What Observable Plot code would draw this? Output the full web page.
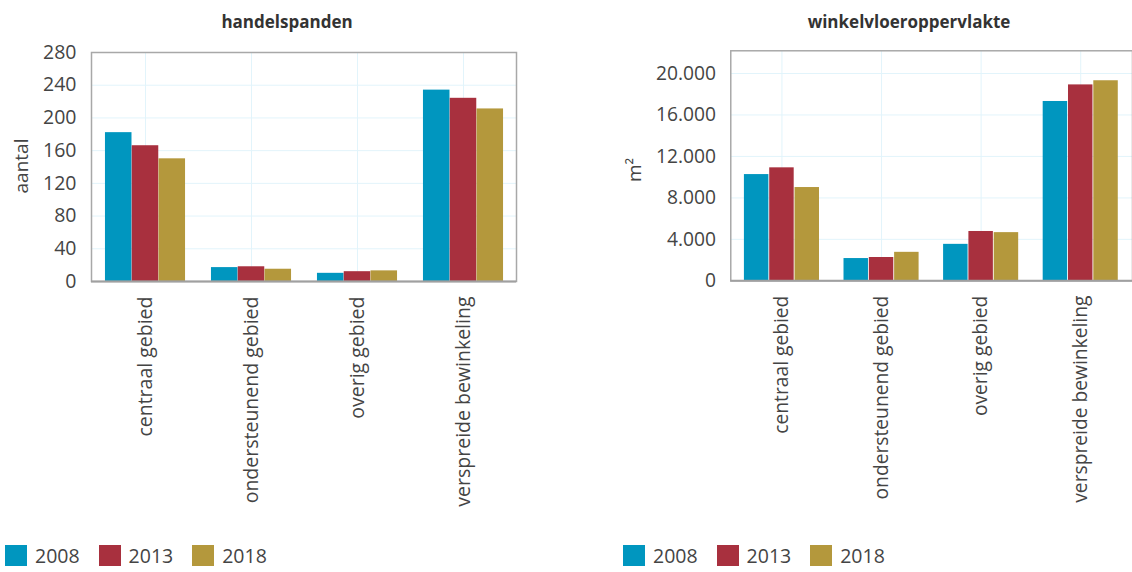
<!DOCTYPE html>
<html>
<head>
<meta charset="utf-8">
<script src="https://cdn.jsdelivr.net/npm/d3@7"></script>
<script src="https://cdn.jsdelivr.net/npm/@observablehq/plot@0.6"></script>
<style>
  html, body { margin: 0; padding: 0; background: #fff; }
  #root { position: relative; width: 1132px; height: 572px; overflow: hidden; font-family: "Open Sans", sans-serif; color: #444; }
  .panel { position: absolute; top: 0; }
  .title { position: absolute; top: 10px; font-weight: bold; font-size: 17px; color: #333; transform: translateX(-50%); white-space: nowrap; }
  .ylab { position: absolute; font-size: 19px; color: #444; white-space: nowrap; transform: translate(-50%, -50%) rotate(-90deg); }
  .legend { position: absolute; display: flex; align-items: center; font-size: 19.5px; line-height: 21px; height: 21px; color: #444; }
  .legend .sw { width: 22px; height: 21px; margin-right: 8px; }
  .legend .item { display: flex; align-items: center; margin-right: 19px; height: 21px; }
</style>
</head>
<body>
<div id="root">
  <div class="title" style="left:287px">handelspanden</div>
  <div class="title" style="left:909px">winkelvloeroppervlakte</div>
  <div class="panel" id="left" style="left:0px"></div>
  <div class="panel" id="right" style="left:566px"></div>
  <div class="ylab" style="left:21px; top:166px">aantal</div>
  <div class="ylab" style="left:634px; top:170px">m²</div>
  <div class="legend" id="legL" style="left:5px; top:545px"></div>
  <div class="legend" id="legR" style="left:623px; top:545px"></div>
</div>
<script>
const categories = ["centraal gebied", "ondersteunend gebied", "overig gebied", "verspreide bewinkeling"];
const years = ["2008", "2013", "2018"];
const colors = ["#0096bf", "#a8303e", "#b4983c"];

const handelspanden2008 = [182, 17, 10, 234];
const handelspanden2013 = [166, 18, 12, 224];
const handelspanden2018 = [150, 15, 13, 211];
const handelspandenTicks = [0, 40, 80, 120, 160, 200, 240, 280];

const vloer2008 = [10250, 2150, 3520, 17300];
const vloer2013 = [10900, 2250, 4760, 18900];
const vloer2018 = [9000, 2750, 4650, 19300];
const vloerTicks = [0, 4000, 8000, 12000, 16000, 20000];

const nl = d3.formatLocale({decimal: ",", thousands: ".", grouping: [3], currency: ["€", ""]});
const fmtNL = nl.format(",");

function rows(series) {
  const out = [];
  series.forEach((vals, i) => vals.forEach((v, j) => out.push({cat: categories[j], year: years[i], value: v})));
  return out;
}

function chart({series, ticks, yMax, width, marginLeft, marginRight, marginTop, plotBottom, height, tickFormat}) {
  const data = rows(series);
  const bw = (width - marginLeft - marginRight) / categories.length;
  const outer = bw * 0.122;
  const barW = (bw - 2 * outer) / years.length;
  const bars = years.map((y, i) => Plot.barY(data.filter(d => d.year === y), {
    x: "cat", y: "value", fill: colors[i],
    insetLeft: outer + i * barW,
    insetRight: outer + (years.length - 1 - i) * barW
  }));
  const gridColor = "#e2f4fb";
  return Plot.plot({
    width, height, marginLeft, marginRight, marginTop,
    marginBottom: height - plotBottom,
    style: {fontFamily: "Open Sans, sans-serif", color: "#444", background: "transparent"},
    x: {domain: categories, padding: 0},
    y: {domain: [0, yMax]},
    marks: [
      Plot.gridY(ticks, {stroke: gridColor, strokeOpacity: 1}),
      Plot.gridX({stroke: gridColor, strokeOpacity: 1}),
      ...bars,
      Plot.frame({stroke: "#a8a8a8", strokeWidth: 1.5}),
      Plot.ruleY([0], {stroke: "#a0a0a0", strokeWidth: 2}),
      Plot.axisY({ticks, tickSize: 0, tickPadding: 15, fontSize: 19.5, tickFormat, label: null}),
      Plot.axisX({tickSize: 0, tickPadding: 15, tickRotate: -90, fontSize: 19.5, label: null})
    ]
  });
}

document.getElementById("left").append(chart({
  series: [handelspanden2008, handelspanden2013, handelspanden2018],
  ticks: handelspandenTicks, yMax: 280,
  width: 566, marginLeft: 91, marginRight: 50, marginTop: 52, plotBottom: 281, height: 540,
  tickFormat: d => String(d)
}));

document.getElementById("right").append(chart({
  series: [vloer2008, vloer2013, vloer2018],
  ticks: vloerTicks, yMax: 22190,
  width: 574, marginLeft: 166.6, marginRight: 0, marginTop: 51, plotBottom: 284.3, height: 540,
  tickFormat: fmtNL
}));

function legend(id) {
  const el = document.getElementById(id);
  years.forEach((y, i) => {
    const item = document.createElement("div");
    item.className = "item";
    const sw = document.createElement("div");
    sw.className = "sw";
    sw.style.background = colors[i];
    const t = document.createElement("span");
    t.textContent = y;
    item.append(sw, t);
    el.append(item);
  });
}
legend("legL");
legend("legR");
</script>
</body>
</html>
